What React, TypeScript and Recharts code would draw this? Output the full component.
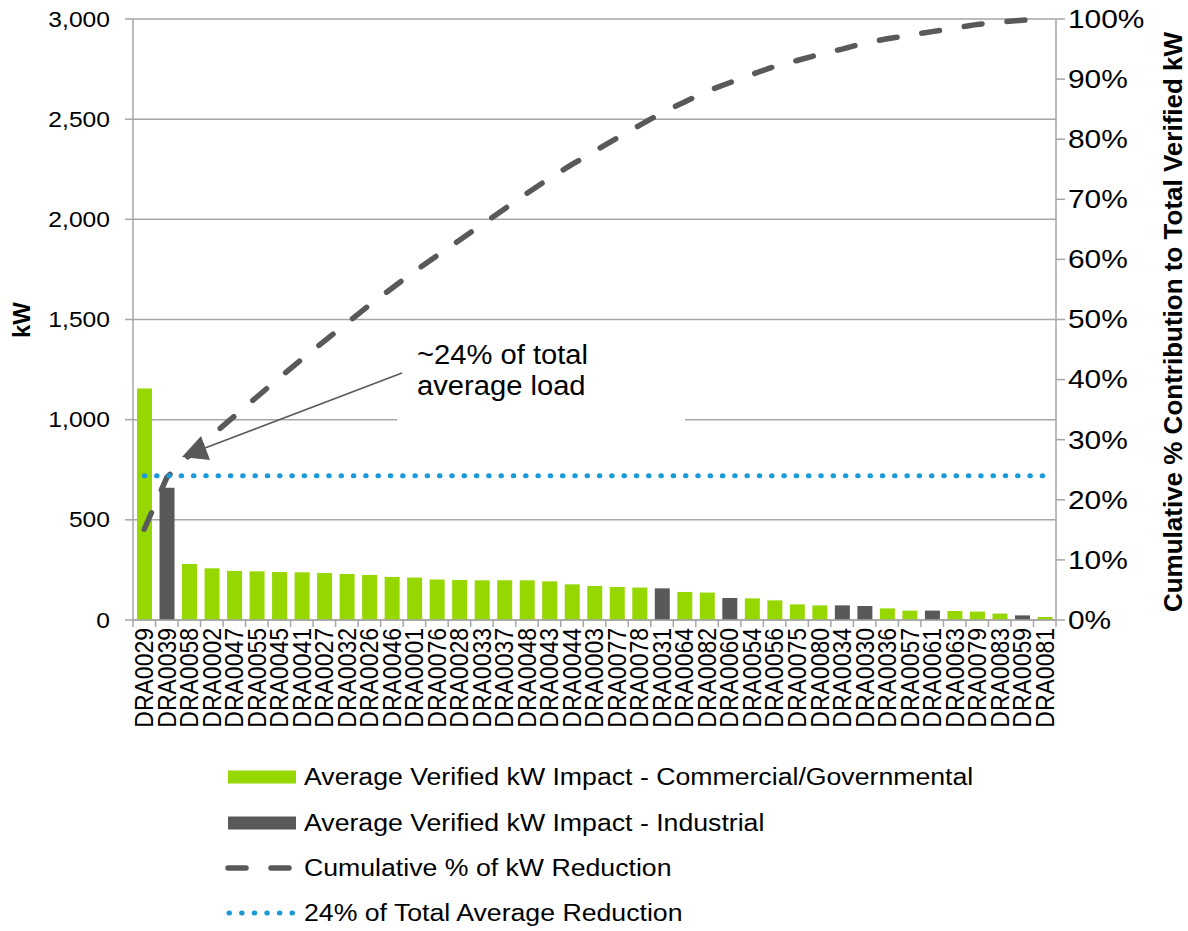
import { ComposedChart, Bar, Line, XAxis, YAxis, CartesianGrid } from 'recharts'

// sites, sorted by average verified kW impact
const sites = [
  'DRA0029', 'DRA0039', 'DRA0058', 'DRA0002', 'DRA0047', 'DRA0055', 'DRA0045',
  'DRA0041', 'DRA0027', 'DRA0032', 'DRA0026', 'DRA0046', 'DRA0001', 'DRA0076',
  'DRA0028', 'DRA0033', 'DRA0037', 'DRA0048', 'DRA0043', 'DRA0044', 'DRA0003',
  'DRA0077', 'DRA0078', 'DRA0031', 'DRA0064', 'DRA0082', 'DRA0060', 'DRA0054',
  'DRA0056', 'DRA0075', 'DRA0080', 'DRA0034', 'DRA0030', 'DRA0036', 'DRA0057',
  'DRA0061', 'DRA0063', 'DRA0079', 'DRA0083', 'DRA0059', 'DRA0081',
]

const kwImpact = [
  1155, 660, 280, 258, 245, 243, 240, 238, 235, 230, 225, 215, 212, 202, 200,
  198, 198, 198, 193, 178, 170, 165, 162, 158, 140, 137, 110, 108, 98, 78, 73,
  73, 70, 58, 47, 47, 45, 42, 32, 23, 15,
]

const industrialSites = ['DRA0039', 'DRA0031', 'DRA0060', 'DRA0034', 'DRA0030', 'DRA0061', 'DRA0059']

const cumulativePct = [
  15.1, 23.7, 27.4, 30.7, 33.9, 37.1, 40.3, 43.4, 46.4, 49.4, 52.4, 55.2, 58.0,
  60.6, 63.2, 65.8, 68.4, 71.0, 73.5, 75.8, 78.0, 80.2, 82.3, 84.4, 86.2, 88.0,
  89.4, 90.8, 92.1, 93.1, 94.1, 95.0, 96.0, 96.7, 97.3, 97.9, 98.5, 99.1, 99.5,
  99.8, 100,
]

const AVG_SHARE = 24

const kwTicks = [0, 500, 1000, 1500, 2000, 2500, 3000]
const pctTicks = [0, 10, 20, 30, 40, 50, 60, 70, 80, 90, 100]

const GREEN = '#97d700'
const DARK = '#58595b'
const BLUE = '#1a9ad6'
const GRID = '#a6a6a6'
const FONT = '"Liberation Sans", Arial, Helvetica, sans-serif'
const SX = 1.12

const NAMES = {
  commercial: 'Average Verified kW Impact - Commercial/Governmental',
  industrial: 'Average Verified kW Impact - Industrial',
  cumulative: 'Cumulative % of kW Reduction',
  avg: '24% of Total Average Reduction',
}

const data = sites.map((site, i) => {
  const isInd = industrialSites.includes(site)
  return {
    site,
    commercial: isInd ? 0 : kwImpact[i],
    industrial: isInd ? kwImpact[i] : 0,
    cumulative: cumulativePct[i],
    avg: AVG_SHARE,
  }
})

const W = 1188
const H = 931
const X_AXIS_H = 130

const LeftTick = ({ x, y, payload }: any) => (
  <text
    transform={`translate(${x},${y}) scale(${SX},1)`}
    textAnchor="end"
    dominantBaseline="central"
    fontSize={22}
    fontFamily={FONT}
    fill="#000"
  >
    {Number(payload.value).toLocaleString('en-US')}
  </text>
)

const RightTick = ({ x, y, payload }: any) => (
  <text
    transform={`translate(${x},${y}) scale(1.15,1)`}
    textAnchor="start"
    dominantBaseline="central"
    fontSize={26}
    fontFamily={FONT}
    fill="#000"
  >
    {payload.value}%
  </text>
)

// category labels, plus tick marks on the band edges
const SiteTick = ({ x, y, payload, index }: any) => {
  const half = payload.offset ?? 922 / sites.length / 2
  const axisY = y - 8
  return (
    <g>
      <line x1={x - half} x2={x - half} y1={axisY} y2={axisY + 7} stroke={GRID} strokeWidth={1.5} />
      {index === sites.length - 1 && (
        <line x1={x + half} x2={x + half} y1={axisY} y2={axisY + 7} stroke={GRID} strokeWidth={1.5} />
      )}
      <text
        transform={`translate(${x},${y}) scale(1.1,1) rotate(-90)`}
        textAnchor="end"
        dominantBaseline="central"
        fontSize={23}
        fontFamily={FONT}
        fill="#000"
      >
        {payload.value}
      </text>
    </g>
  )
}

const legendRows = [
  { key: 'commercial', kind: 'bar', color: GREEN, y: 777 },
  { key: 'industrial', kind: 'bar', color: DARK, y: 823 },
  { key: 'cumulative', kind: 'dash', color: DARK, y: 868 },
  { key: 'avg', kind: 'dot', color: BLUE, y: 913 },
] as const

function Overlay() {
  return (
    <svg
      width={W}
      height={H}
      style={{ position: 'absolute', left: 0, top: 0, pointerEvents: 'none' }}
      fontFamily={FONT}
    >
      {/* axis titles */}
      <text
        transform="translate(21,320) rotate(-90)"
        textAnchor="middle"
        dominantBaseline="central"
        fontSize={24}
        fontWeight="bold"
      >
        kW
      </text>
      <text
        transform="translate(1173,322) rotate(-90)"
        textAnchor="middle"
        dominantBaseline="central"
        fontSize={26}
        fontWeight="bold"
      >
        Cumulative % Contribution to Total Verified kW
      </text>

      {/* callout */}
      <rect x={397} y={324} width={288} height={100} fill="#fff" />
      <text transform={`translate(417,355) scale(1.08,1)`} dominantBaseline="central" fontSize={27}>
        ~24% of total
      </text>
      <text transform={`translate(417,386) scale(1.08,1)`} dominantBaseline="central" fontSize={27}>
        average load
      </text>
      <line x1={402} y1={373} x2={205} y2={448} stroke={DARK} strokeWidth={1.5} />
      <polygon points="182,457 201,436 210,460" fill={DARK} />

      {/* legend */}
      {legendRows.map((r) => (
        <g key={r.key}>
          {r.kind === 'bar' && <rect x={228} y={r.y - 6.5} width={68} height={13} fill={r.color} />}
          {r.kind === 'dash' && (
            <line
              x1={228}
              x2={293}
              y1={r.y}
              y2={r.y}
              stroke={r.color}
              strokeWidth={5.5}
              strokeDasharray="18 25"
              strokeLinecap="round"
            />
          )}
          {r.kind === 'dot' && (
            <line
              x1={229}
              x2={293}
              y1={r.y}
              y2={r.y}
              stroke={r.color}
              strokeWidth={5}
              strokeDasharray="0.5 12.1"
              strokeLinecap="round"
            />
          )}
          <text
            transform={`translate(304,${r.y}) scale(1.16,1)`}
            dominantBaseline="central"
            fontSize={23}
            fill="#000"
          >
            {NAMES[r.key]}
          </text>
        </g>
      ))}
    </svg>
  )
}

export default function App() {
  return (
    <div style={{ position: 'relative', width: W, height: H, background: '#fff' }}>
      <style>{'body{margin:0}'}</style>
      <ComposedChart
        width={W}
        height={H}
        data={data}
        margin={{ top: 19, right: 0, bottom: H - 620 - X_AXIS_H, left: 0 }}
      >
        <CartesianGrid yAxisId="left" vertical={false} stroke={GRID} strokeWidth={1.5} />
        <XAxis
          dataKey="site"
          interval={0}
          height={X_AXIS_H}
          tickSize={0}
          tickMargin={8}
          tickLine={false}
          axisLine={{ stroke: GRID, strokeWidth: 1.5 }}
          tick={<SiteTick />}
        />
        <YAxis
          yAxisId="left"
          width={133}
          domain={[0, 3000]}
          ticks={kwTicks}
          tickSize={8}
          tickMargin={15}
          axisLine={{ stroke: GRID, strokeWidth: 1.5 }}
          tickLine={{ stroke: GRID, strokeWidth: 1.5 }}
          tick={<LeftTick />}
        />
        <YAxis
          yAxisId="right"
          orientation="right"
          width={132}
          domain={[0, 100]}
          ticks={pctTicks}
          tickSize={9}
          tickMargin={3}
          axisLine={{ stroke: GRID, strokeWidth: 1.5 }}
          tickLine={{ stroke: GRID, strokeWidth: 1.5 }}
          tick={<RightTick />}
        />
        <Bar
          yAxisId="left"
          dataKey="commercial"
          name={NAMES.commercial}
          stackId="kw"
          barSize={15}
          fill={GREEN}
          isAnimationActive={false}
        />
        <Bar
          yAxisId="left"
          dataKey="industrial"
          name={NAMES.industrial}
          stackId="kw"
          barSize={15}
          fill={DARK}
          isAnimationActive={false}
        />
        <Line
          yAxisId="right"
          dataKey="cumulative"
          name={NAMES.cumulative}
          stroke={DARK}
          strokeWidth={5.5}
          strokeDasharray="18 25"
          strokeLinecap="round"
          dot={false}
          activeDot={false}
          isAnimationActive={false}
        />
        <Line
          yAxisId="right"
          dataKey="avg"
          name={NAMES.avg}
          stroke={BLUE}
          strokeWidth={5}
          strokeDasharray="0.5 11.8"
          strokeLinecap="round"
          dot={false}
          activeDot={false}
          isAnimationActive={false}
        />
      </ComposedChart>
      <Overlay />
    </div>
  )
}
